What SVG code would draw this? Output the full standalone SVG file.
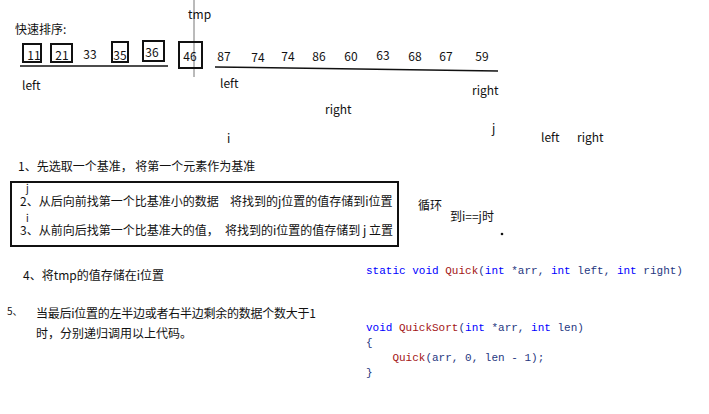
<svg xmlns="http://www.w3.org/2000/svg" width="709" height="414" viewBox="0 0 709 414">
<style>
text{font-family:"Microsoft YaHei","Noto Sans CJK SC","Liberation Sans",sans-serif;font-size:12px;fill:#111}
.n{font-size:12px;text-anchor:middle}
.s{font-size:10px}
.b{fill:none;stroke:#111;stroke-width:2}
.c{font-family:"Liberation Mono",monospace;font-size:11px;fill:#1f377f;white-space:pre}
.k{fill:#0000ff}.f{fill:#a31515}
</style>
<rect width="709" height="414" fill="#fff"/>
<g id="connectors">
<line x1="194" y1="0" x2="194" y2="77" stroke="#777" stroke-width="1"/>
<line x1="20" y1="66" x2="168" y2="66" stroke="#111" stroke-width="1.5"/>
<line x1="215" y1="67" x2="498" y2="71" stroke="#111" stroke-width="1.5"/>
</g>
<text x="188" y="19">tmp</text>
<text x="15" y="34">快速排序:</text>
<g id="nodes">
<rect class="b" x="23" y="44" width="18" height="18"/>
<rect class="b" x="51" y="44" width="21" height="18"/>
<rect class="b" x="112" y="42" width="16" height="20"/>
<rect class="b" x="143" y="41" width="21" height="20"/>
<rect class="b" x="179" y="42" width="23" height="26"/>
<text class="n" x="34" y="60">11</text>
<text class="n" x="62" y="60">21</text>
<text class="n" x="90" y="59">33</text>
<text class="n" x="120" y="60">35</text>
<text class="n" x="152" y="57">36</text>
<text class="n" x="190" y="61">46</text>
<text class="n" x="224" y="61">87</text>
<text class="n" x="258" y="62">74</text>
<text class="n" x="288" y="61">74</text>
<text class="n" x="319" y="61">86</text>
<text class="n" x="351" y="61">60</text>
<text class="n" x="383" y="60">63</text>
<text class="n" x="415" y="61">68</text>
<text class="n" x="446" y="61">67</text>
<text class="n" x="482" y="61">59</text>
</g>
<text x="22" y="90">left</text>
<text x="220" y="88">left</text>
<text x="472" y="95">right</text>
<text x="325" y="114">right</text>
<text x="227" y="143">i</text>
<text x="492" y="133">j</text>
<text x="541" y="142">left</text>
<text x="577" y="142">right</text>
<text x="18" y="171">1、先选取一个基准，    将第一个元素作为基准</text>
<rect class="b" x="11" y="182" width="387" height="64"/>
<text class="s" x="26" y="192">j</text>
<text x="20" y="206">2、从后向前找第一个比基准小的数据</text>
<text x="230" y="206">将找到的j位置的值存储到i位置</text>
<text class="s" x="26" y="222">i</text>
<text x="20" y="235">3、从前向后找第一个比基准大的值，</text>
<text x="225" y="235">将找到的i位置的值存储到 j 立置</text>
<text x="418" y="210">循环</text>
<text x="450" y="221">到i==j时</text>
<circle cx="502" cy="234" r="1.3" fill="#111"/>
<text x="23" y="280">4、将tmp的值存储在i位置</text>
<text x="7" y="315" class="s">5、</text>
<text x="36" y="318" textLength="280">当最后i位置的左半边或者右半边剩余的数据个数大于1</text>
<text x="36" y="338">时，分别递归调用以上代码。</text>
<text class="c" x="366" y="274"><tspan class="k">static void</tspan> <tspan class="f">Quick</tspan>(<tspan class="k">int</tspan> *arr, <tspan class="k">int</tspan> left, <tspan class="k">int</tspan> right)</text>
<text class="c" x="366" y="331"><tspan class="k">void</tspan> <tspan class="f">QuickSort</tspan>(<tspan class="k">int</tspan> *arr, <tspan class="k">int</tspan> len)</text>
<text class="c" x="366" y="346">{</text>
<text class="c" x="366" y="361">    <tspan class="f">Quick</tspan>(arr, 0, len - 1);</text>
<text class="c" x="366" y="376">}</text>
</svg>
